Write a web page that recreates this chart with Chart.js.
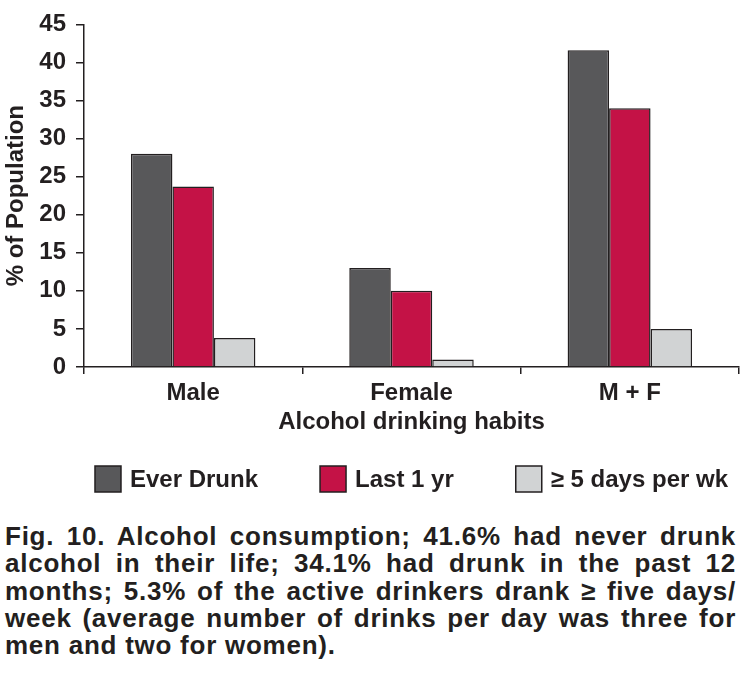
<!DOCTYPE html>
<html>
<head>
<meta charset="utf-8">
<script src="https://cdn.jsdelivr.net/npm/chart.js@4.4.1/dist/chart.umd.min.js"></script>
<style>
  body { margin: 0; background: #fff; }
  #wrap { position: relative; width: 753px; height: 674px; }
  #caption {
    position: absolute; left: 5px; top: 523px; width: 731px;
    font: bold 26px "Liberation Sans", Arial, sans-serif;
    letter-spacing: 0.75px; line-height: 27.3px; color: #231f20;
  }
  #caption div { text-align: justify; text-align-last: justify; white-space: nowrap; }
  #caption div.last { text-align-last: left; }
</style>
</head>
<body>
<div id="wrap">
  <canvas id="myChart" width="753" height="510"></canvas>
  <div id="caption">
    <div>Fig. 10. Alcohol consumption; 41.6% had never drunk</div>
    <div>alcohol in their life; 34.1% had drunk in the past 12</div>
    <div>months; 5.3% of the active drinkers drank ≥ five days/</div>
    <div>week (average number of drinks per day was three for</div>
    <div class="last">men and two for women).</div>
  </div>
</div>
<script>
  const categories = ['Male', 'Female', 'M + F'];
  const everDrunk = [28, 13, 41.6];
  const lastYear = [23.7, 10, 34];
  const fivePlusDays = [3.8, 1, 5];
  const yMax = 45;
  const yStep = 5;

  const ink = '#231f20';
  const font = 'Liberation Sans, Arial, sans-serif';

  // legend drawn by hand: the gaps between items are wider than Chart.js allows vertically
  const boxLegend = {
    id: 'boxLegend',
    afterDraw(chart) {
      const ctx = chart.ctx;
      const area = chart.chartArea;
      const size = 26, gap = 9, spacing = 62;
      const top = area.bottom + 99;
      ctx.save();
      ctx.font = 'bold 24px ' + font;
      const items = chart.data.datasets.map(ds => ({
        ds: ds,
        w: size + gap + ctx.measureText(ds.label).width
      }));
      const total = items.reduce((s, it) => s + it.w, 0) + spacing * (items.length - 1);
      let x = (area.left + area.right) / 2 - total / 2;
      items.forEach(it => {
        ctx.fillStyle = it.ds.backgroundColor;
        ctx.fillRect(x, top, size, size);
        ctx.lineWidth = 1.5;
        ctx.strokeStyle = it.ds.borderColor;
        ctx.strokeRect(x, top, size, size);
        ctx.fillStyle = ink;
        ctx.textBaseline = 'middle';
        ctx.textAlign = 'left';
        ctx.fillText(it.ds.label, x + size + gap, top + size / 2 + 1);
        x += it.w + spacing;
      });
      ctx.restore();
    }
  };

  const data = {
    labels: categories,
    datasets: [{
      label: 'Ever Drunk',
      backgroundColor: '#58585a',
      borderColor: ink,
      borderWidth: 1.5,
      data: everDrunk,
    },
    {
      label: 'Last 1 yr',
      backgroundColor: '#c41246',
      borderColor: ink,
      borderWidth: 1.5,
      data: lastYear,
    },
    {
      label: '≥ 5 days per wk',
      backgroundColor: '#d1d3d4',
      borderColor: ink,
      borderWidth: 1.5,
      data: fivePlusDays,
    }]
  };

  const config = {
    type: 'bar',
    data: data,
    options: {
      responsive: false,
      animation: false,
      categoryPercentage: 0.57,
      barPercentage: 1.0,
      layout: { padding: { left: 0, right: 14, top: 24, bottom: 73 } },
      plugins: {
        legend: { display: false },
        tooltip: { enabled: false }
      },
      scales: {
        x: {
          grid: { display: true, drawOnChartArea: false, offset: true, tickLength: 7, color: ink, lineWidth: 1.5 },
          border: { display: true, color: ink, width: 1.5 },
          ticks: { color: ink, padding: 5, font: { family: font, size: 24, weight: 'bold' } },
          title: {
            display: true, text: 'Alcohol drinking habits', color: ink,
            padding: { top: 0, bottom: 0 },
            font: { family: font, size: 24, weight: 'bold' }
          },
          afterFit(scale) { scale.height = 70; }
        },
        y: {
          min: 0,
          max: yMax,
          grid: { display: true, drawOnChartArea: false, tickLength: 8, color: ink, lineWidth: 1.5 },
          border: { display: true, color: ink, width: 1.5 },
          ticks: { stepSize: yStep, color: ink, padding: 10, font: { family: font, size: 24, weight: 'bold' } },
          title: {
            display: true, text: '% of Population', color: ink,
            padding: { top: 2, bottom: 0 },
            font: { family: font, size: 24, weight: 'bold' }
          },
          afterFit(scale) { scale.width = 84; }
        }
      }
    },
    plugins: [boxLegend]
  };

  const myChart = new Chart(
    document.getElementById('myChart'),
    config
  );
</script>
</body>
</html>
